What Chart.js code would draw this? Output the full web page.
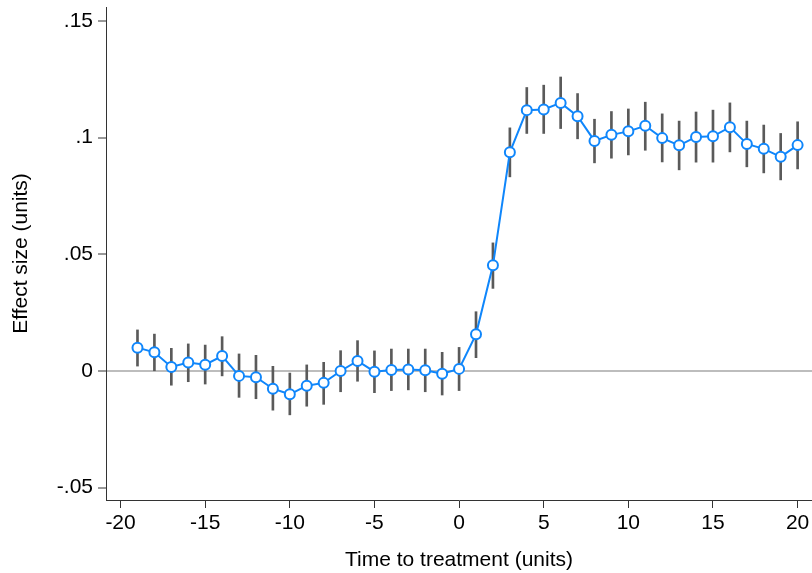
<!DOCTYPE html>
<html>
<head>
<meta charset="utf-8">
<script src="https://cdn.jsdelivr.net/npm/chart.js@4/dist/chart.umd.min.js"></script>
<style>
  html, body { margin: 0; padding: 0; background: #fff; }
  #wrap { width: 812px; height: 573px; position: relative; }
</style>
</head>
<body>
<div id="wrap"><canvas id="chart"></canvas></div>
<script>
const periods = [-19, -18, -17, -16, -15, -14, -13, -12, -11, -10, -9, -8, -7, -6, -5, -4, -3, -2, -1, 0,
                 1, 2, 3, 4, 5, 6, 7, 8, 9, 10, 11, 12, 13, 14, 15, 16, 17, 18, 19, 20]

const effect = [0.0100, 0.0080, 0.0017, 0.0036, 0.0027, 0.0064, -0.0021, -0.0027, -0.0076, -0.0100,
                -0.0063, -0.0051, 0.0000, 0.0043, -0.0003, 0.0004, 0.0006, 0.0003, -0.0012, 0.0009,
                0.0157, 0.0453, 0.0937, 0.1118, 0.1121, 0.1149, 0.1092, 0.0986, 0.1012, 0.1027,
                0.1051, 0.0998, 0.0967, 0.1003, 0.1006, 0.1045, 0.0973, 0.0952, 0.0918, 0.0968]

const lower = [0.0021, 0.0001, -0.0061, -0.0046, -0.0056, -0.0021, -0.0113, -0.0119, -0.0168, -0.0188,
               -0.0151, -0.0143, -0.0089, -0.0044, -0.0093, -0.0084, -0.0081, -0.0089, -0.0103, -0.0084,
               0.0057, 0.0354, 0.0832, 0.1018, 0.1018, 0.1039, 0.0995, 0.0892, 0.0912, 0.0926,
               0.0946, 0.0896, 0.0862, 0.0895, 0.0895, 0.0939, 0.0875, 0.0849, 0.0819, 0.0866]

const upper = [0.0176, 0.0158, 0.0097, 0.0116, 0.0111, 0.0147, 0.0073, 0.0067, 0.0020, -0.0009,
               0.0026, 0.0037, 0.0087, 0.0130, 0.0086, 0.0094, 0.0094, 0.0094, 0.0080, 0.0101,
               0.0254, 0.0549, 0.1042, 0.1215, 0.1225, 0.1260, 0.1189, 0.1079, 0.1112, 0.1123,
               0.1152, 0.1102, 0.1071, 0.1110, 0.1118, 0.1149, 0.1071, 0.1054, 0.1018, 0.1068]

const xTicks = [-20, -15, -10, -5, 0, 5, 10, 15, 20]
const yTicks = [-0.05, 0, 0.05, 0.1, 0.15]
const yTickLabels = ['-.05', '0', '.05', '.1', '.15']

const font = { family: "'Liberation Sans', Arial, sans-serif", size: 21 }
const axisColor = '#333'

new Chart(document.querySelector('#chart'), {
  type: 'line',
  data: {
    datasets: [
      {
        type: 'line',
        order: 0,
        data: periods.map((p, i) => ({ x: p, y: effect[i] })),
        borderColor: '#0f86fb',
        borderWidth: 2,
        pointRadius: 5,
        pointBorderWidth: 2,
        pointBackgroundColor: '#fff',
        pointBorderColor: '#0f86fb',
        tension: 0
      },
      {
        type: 'bar',
        order: 1,
        data: periods.map((p, i) => ({ x: p, y: [lower[i], upper[i]] })),
        backgroundColor: '#5a5a5a',
        barThickness: 2,
        borderWidth: 0
      }
    ]
  },
  options: {
    responsive: true,
    maintainAspectRatio: false,
    animation: false,
    layout: { autoPadding: false, padding: { top: 7, right: 0, bottom: 0, left: 0 } },
    plugins: {
      legend: { display: false },
      tooltip: { enabled: false }
    },
    scales: {
      x: {
        type: 'linear',
        min: -20.86,
        max: 20.85,
        offset: false,
        afterBuildTicks: s => { s.ticks = xTicks.map(v => ({ value: v })) },
        afterFit: s => { s.height = 73; s.paddingLeft = 0; s.paddingRight = 0 },
        ticks: { font, color: '#000', padding: 3, maxRotation: 0 },
        grid: { offset: false, drawOnChartArea: false, tickLength: 8, tickColor: axisColor, tickWidth: 1 },
        border: { display: true, color: axisColor, width: 1 },
        title: { display: true, text: 'Time to treatment (units)', font, color: '#000', padding: { top: 0, bottom: 0 } }
      },
      y: {
        type: 'linear',
        min: -0.0553,
        max: 0.156,
        afterBuildTicks: s => { s.ticks = yTicks.map(v => ({ value: v })) },
        afterFit: s => { s.width = 106; s.paddingTop = 0; s.paddingBottom = 0 },
        ticks: {
          font, color: '#000', padding: 5,
          callback: (v, i) => yTickLabels[i]
        },
        grid: {
          color: c => (c.tick && c.tick.value === 0 ? '#bdbdbd' : 'rgba(0,0,0,0)'),
          lineWidth: c => (c.tick && c.tick.value === 0 ? 2 : 0),
          tickColor: axisColor,
          tickLength: 8,
          tickWidth: 1
        },
        border: { display: true, color: axisColor, width: 1 },
        title: { display: true, text: 'Effect size (units)', font, color: '#000', padding: { top: 9, bottom: 0 } }
      }
    }
  }
})
</script>
</body>
</html>
